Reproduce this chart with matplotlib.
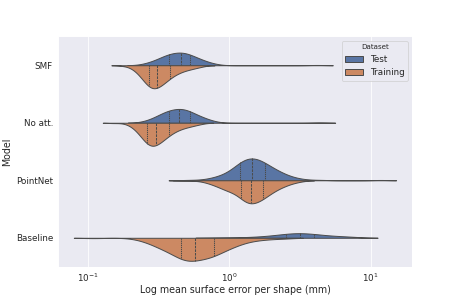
import numpy as np
import pandas as pd
import matplotlib
matplotlib.use("Agg")
import matplotlib.pyplot as plt
import seaborn as sns

models = ["SMF", "No att.", "PointNet", "Baseline"]
datasets = ["Test", "Training"]

# log10 of the mean surface error per shape (mm) and number of shapes at that value
smf_test_log = [-0.61, -0.58, -0.55, -0.52, -0.49, -0.46, -0.43, -0.40, -0.37, -0.34, -0.31, -0.28,
                -0.25, -0.22, -0.19, -0.16, -0.13, -0.10, 0.62]
smf_test_n = [1, 2, 3, 4, 6, 8, 10, 10, 10, 12, 11, 9, 7, 6, 4, 3, 2, 1, 1]
smf_train_log = [-0.76, -0.72, -0.69, -0.66, -0.63, -0.60, -0.57, -0.54, -0.51, -0.48, -0.45, -0.42,
                 -0.39, -0.36, -0.33, -0.30, -0.27, -0.24, -0.21, -0.18]
smf_train_n = [1, 1, 3, 6, 11, 17, 23, 25, 24, 20, 17, 13, 10, 8, 6, 5, 4, 3, 2, 1]

noatt_test_log = [-0.61, -0.58, -0.55, -0.52, -0.49, -0.46, -0.43, -0.40, -0.37, -0.34, -0.31, -0.28,
                  -0.25, -0.22, -0.19, -0.16, -0.13, -0.10, 0.64]
noatt_test_n = [1, 2, 3, 5, 7, 9, 11, 11, 11, 13, 12, 10, 7, 6, 5, 3, 2, 1, 1]
noatt_train_log = [-0.82, -0.73, -0.70, -0.67, -0.64, -0.61, -0.58, -0.55, -0.52, -0.49, -0.46, -0.43,
                   -0.40, -0.37, -0.34, -0.31, -0.28, -0.25, -0.22, -0.19]
noatt_train_n = [1, 1, 3, 6, 11, 17, 23, 25, 24, 20, 17, 13, 10, 8, 6, 5, 4, 3, 2, 1]

pointnet_test_log = [-0.29, -0.20, -0.14, -0.11, -0.08, -0.05, -0.02, 0.01, 0.04, 0.07, 0.10, 0.13,
                     0.16, 0.19, 0.22, 0.25, 0.28, 0.31, 0.34, 0.37, 0.40, 0.43, 0.46, 0.50,
                     0.56, 0.65, 1.07]
pointnet_test_n = [1, 1, 2, 2, 3, 4, 5, 7, 10, 13, 16, 17, 17, 17, 15, 13, 11, 9, 7, 6, 4, 3, 2, 2,
                   1, 1, 1]
pointnet_train_log = [-0.33, -0.22, -0.16, -0.13, -0.10, -0.07, -0.04, -0.01, 0.02, 0.05, 0.08, 0.11,
                      0.14, 0.17, 0.20, 0.23, 0.26, 0.29, 0.32, 0.35, 0.38, 0.41, 0.45, 0.50]
pointnet_train_n = [1, 1, 2, 3, 4, 5, 7, 9, 9, 8, 14, 17, 20, 18, 16, 16, 12, 10, 8, 6, 5, 4, 3, 2]

baseline_test_log = [-0.05, 0.10, 0.20, 0.28, 0.34, 0.40, 0.45, 0.50, 0.55, 0.60, 0.66, 0.72, 0.80, 0.86]
baseline_test_n = [1, 1, 2, 2, 3, 4, 5, 5, 4, 4, 3, 2, 2, 2]
baseline_train_log = [-0.96, -0.66, -0.62, -0.58, -0.54, -0.50, -0.46, -0.42, -0.38, -0.34, -0.30,
                      -0.26, -0.22, -0.18, -0.14, -0.11, -0.07, -0.03, 0.01, 0.05, 0.10, 0.17,
                      0.26, 0.38]
baseline_train_n = [1, 1, 2, 3, 5, 7, 9, 10, 11, 17, 18, 16, 15, 14, 13, 12, 10, 9, 7, 6, 5, 4, 3, 2]

groups = [
    ("SMF", "Test", smf_test_log, smf_test_n),
    ("SMF", "Training", smf_train_log, smf_train_n),
    ("No att.", "Test", noatt_test_log, noatt_test_n),
    ("No att.", "Training", noatt_train_log, noatt_train_n),
    ("PointNet", "Test", pointnet_test_log, pointnet_test_n),
    ("PointNet", "Training", pointnet_train_log, pointnet_train_n),
    ("Baseline", "Test", baseline_test_log, baseline_test_n),
    ("Baseline", "Training", baseline_train_log, baseline_train_n),
]

rows = []
for model, ds, vals, n in groups:
    for v in np.repeat(vals, n):
        rows.append({"Model": model, "Dataset": ds, "err": 10 ** v})
df = pd.DataFrame(rows)

sns.set_theme()
fig, ax = plt.subplots(figsize=(8, 5.33), dpi=57.25)
fig.subplots_adjust(left=0.126, right=0.9, bottom=0.126, top=0.88)

sns.violinplot(data=df, x="err", y="Model", hue="Dataset", order=models, hue_order=datasets,
               split=True, inner="quart", log_scale=True, density_norm="count",
               common_norm=True, inner_kws={"linewidth": 1.3}, ax=ax)

ax.tick_params(length=0, pad=6)
ax.set_xlabel("Log mean surface error per shape (mm)", labelpad=2)
ax.set_ylabel("Model")
ax.legend(title="Dataset", loc="upper right", title_fontsize=9)

plt.savefig("out.png", dpi=57.25)
